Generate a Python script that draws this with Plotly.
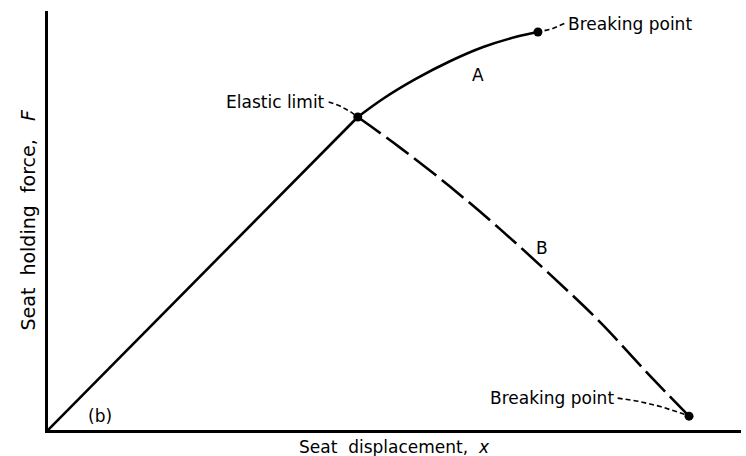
import numpy as np
import plotly.graph_objects as go

# Seat holding force F against seat displacement x (arbitrary units, 0-100)
elastic_x, elastic_y = 44.7, 74.7

linear_x = [0.0, elastic_x]
linear_y = [0.0, elastic_y]

# Curve A: continues to harden past the elastic limit
curve_a_x = [44.7, 48.3, 53.2, 58.0, 62.8, 67.7, 70.7]
curve_a_y = [74.7, 79.0, 83.9, 88.0, 91.4, 93.9, 95.0]

# Curve B: softens after the elastic limit
curve_b_x = [44.7, 50.8, 58.0, 65.2, 72.4, 79.7, 86.6, 92.5]
curve_b_y = [74.7, 67.4, 58.1, 48.0, 37.2, 25.7, 13.4, 3.3]

FONT = "DejaVu Sans"
INK = "black"

fig = go.Figure()

fig.add_trace(go.Scatter(x=linear_x, y=linear_y, mode="lines",
                         line=dict(color=INK, width=2.6), hoverinfo="skip"))
fig.add_trace(go.Scatter(x=curve_a_x, y=curve_a_y, mode="lines",
                         line=dict(color=INK, width=2.6, shape="spline", smoothing=1.0),
                         hoverinfo="skip"))
fig.add_trace(go.Scatter(x=curve_b_x, y=curve_b_y, mode="lines",
                         line=dict(color=INK, width=2.6, shape="spline", smoothing=1.0,
                                   dash="28px,7px"),
                         hoverinfo="skip"))

# Key points
pts_x = [elastic_x, curve_a_x[-1], curve_b_x[-1]]
pts_y = [elastic_y, curve_a_y[-1], curve_b_y[-1]]
fig.add_trace(go.Scatter(x=pts_x, y=pts_y, mode="markers",
                         marker=dict(color=INK, size=9), hoverinfo="skip"))

# Callout labels: (text, anchor x, anchor y, xanchor, target x, target y, bend)
callouts = [
    ("Elastic limit", 40.2, 78.3, "right", elastic_x, elastic_y, 0.9),
    ("Breaking point", 74.8, 97.0, "left", curve_a_x[-1], curve_a_y[-1], -0.6),
    ("Breaking point", 81.9, 7.6, "right", curve_b_x[-1], curve_b_y[-1], 1.2),
]
for text, ax_, ay_, xa, tx, ty, bend in callouts:
    fig.add_annotation(x=ax_, y=ay_, text=text, showarrow=False, xanchor=xa,
                       yanchor="middle", font=dict(family=FONT, size=17, color=INK))
    # gently curved dashed leader from label to point
    sx = ax_ + (0.3 if xa == "right" else -0.3)
    t = np.linspace(0, 1, 24)
    cx = (sx + tx) / 2
    cy = (ay_ + ty) / 2 + bend
    lx = (1 - t) ** 2 * sx + 2 * (1 - t) * t * cx + t ** 2 * tx
    ly = (1 - t) ** 2 * ay_ + 2 * (1 - t) * t * cy + t ** 2 * ty
    fig.add_trace(go.Scatter(x=lx, y=ly, mode="lines",
                             line=dict(color=INK, width=1.6, dash="5px,3px"),
                             hoverinfo="skip"))

for text, x, y in [("A", 62.0, 84.7), ("B", 71.3, 43.4), ("(b)", 7.5, 3.3)]:
    fig.add_annotation(x=x, y=y, text=text, showarrow=False,
                       font=dict(family=FONT, size=17, color=INK))

# Axis titles
fig.add_annotation(xref="paper", yref="paper", x=0.5, y=0, yanchor="middle",
                   yshift=-17, showarrow=False,
                   text="Seat  displacement,  <i>x</i>",
                   font=dict(family=FONT, size=17, color=INK))
fig.add_annotation(xref="paper", yref="paper", x=0, y=0.5, xanchor="center",
                   xshift=-21, showarrow=False, textangle=-90,
                   text="Seat  holding  force,   <i>F</i>",
                   font=dict(family=FONT, size=19, color=INK))

fig.update_layout(
    width=746, height=456,
    margin=dict(l=48, r=5, t=11, b=26),
    paper_bgcolor="white", plot_bgcolor="white",
    showlegend=False,
    font=dict(family=FONT, size=17, color=INK),
    xaxis=dict(range=[0, 100], showgrid=False, zeroline=False, showticklabels=False,
               ticks="", showline=True, linecolor=INK, linewidth=2.6),
    yaxis=dict(range=[0, 100], showgrid=False, zeroline=False, showticklabels=False,
               ticks="", showline=True, linecolor=INK, linewidth=2.6),
)

fig.write_html("out.html")
